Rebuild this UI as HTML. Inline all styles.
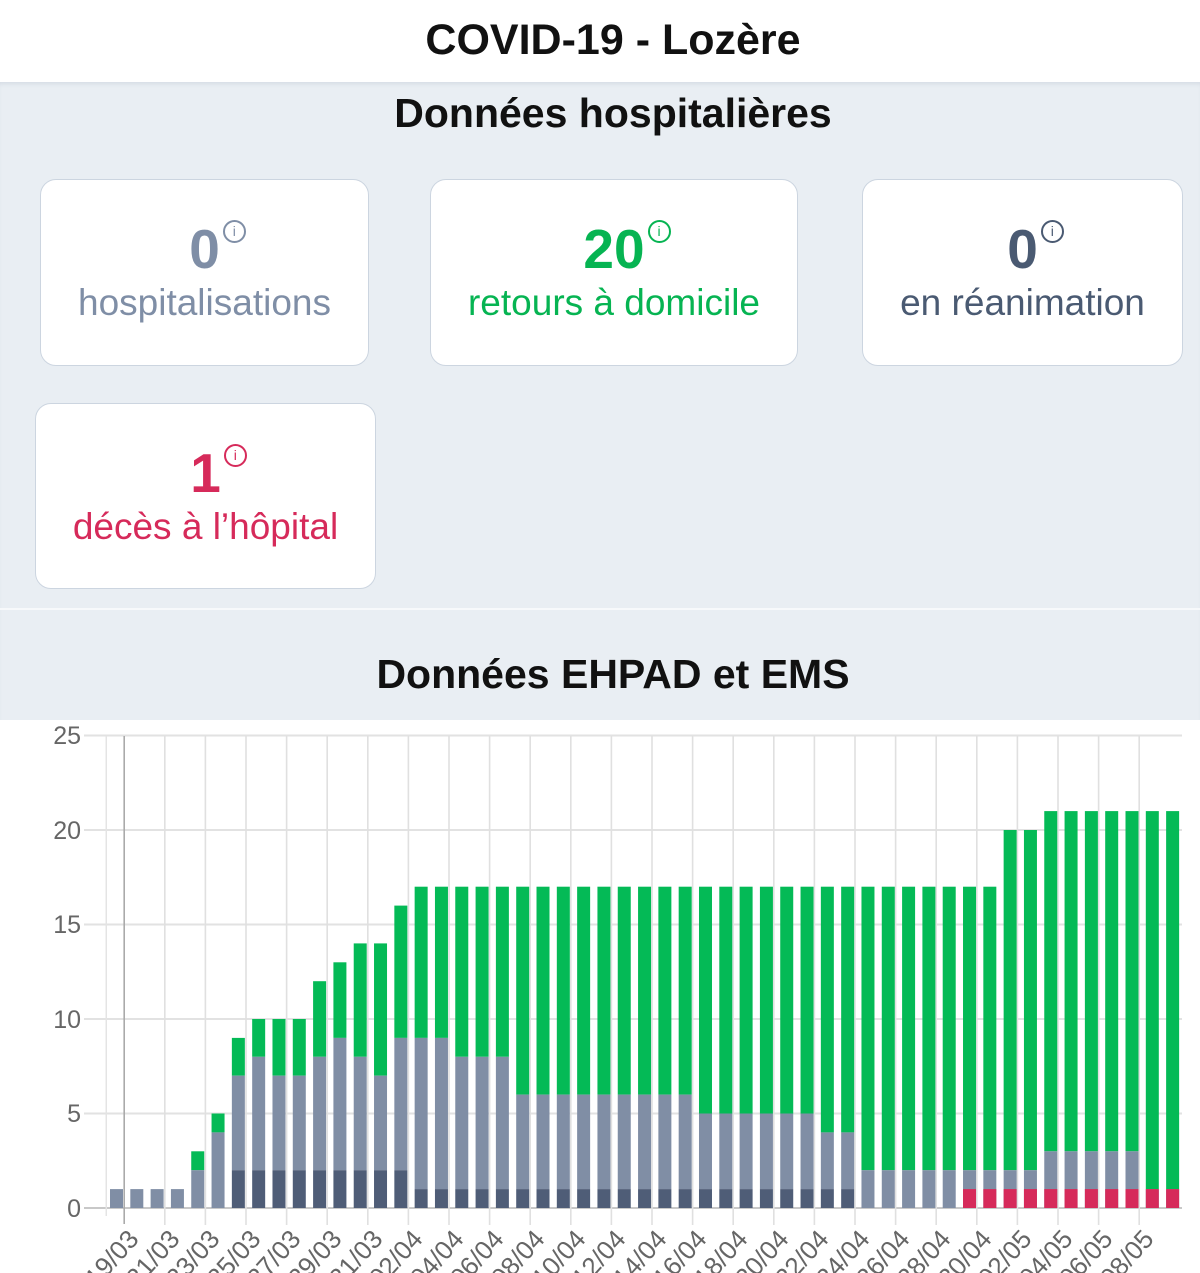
<!DOCTYPE html>
<html><head><meta charset="utf-8"><style>
*{margin:0;padding:0;box-sizing:border-box}
body{width:1200px;height:1273px;position:relative;background:#fff;font-family:"Liberation Sans",Arial,sans-serif;overflow:hidden}
.t{position:absolute;left:13px;width:1200px;text-align:center;font-weight:bold;color:#111}
.gray{position:absolute;left:0;top:82px;width:1200px;height:638px;background:#e9eef3;box-shadow:inset 0 4px 4px -2px #d5dce4}
.sep{position:absolute;left:0;top:608px;width:1200px;height:2px;background:#f7f9fb}
.card{position:absolute;background:#fff;border:1px solid #ccd5e0;border-radius:16px;text-align:center}
.num{position:absolute;left:0;width:100%;top:38px;font-size:55px;font-weight:bold;line-height:62px}
.num span{position:relative}
.num i{position:absolute;top:2px;right:-26px;width:23px;height:23px;border:2px solid currentColor;border-radius:50%;font-style:normal;font-size:14px;line-height:19px;font-weight:normal;text-align:center}
.lab{position:absolute;left:0;width:100%;top:102px;font-size:37px;line-height:42px}
</style></head><body>
<div class="t" style="top:16px;font-size:43px">COVID-19 - Lozère</div>
<div class="gray"></div>
<div class="sep"></div>
<div class="t" style="top:90px;font-size:41px">Données hospitalières</div>
<div class="card" style="left:40px;top:179px;width:329px;height:187px;color:#7f8ea6"><div class="num"><span>0<i>i</i></span></div><div class="lab">hospitalisations</div></div>
<div class="card" style="left:430px;top:179px;width:368px;height:187px;color:#06b452"><div class="num"><span>20<i>i</i></span></div><div class="lab">retours à domicile</div></div>
<div class="card" style="left:862px;top:179px;width:321px;height:187px;color:#4a5a72"><div class="num"><span>0<i>i</i></span></div><div class="lab">en réanimation</div></div>
<div class="card" style="left:35px;top:403px;width:341px;height:186px;color:#d62a5a"><div class="num"><span>1<i>i</i></span></div><div class="lab">décès à l’hôpital</div></div>
<div class="t" style="top:651px;font-size:41px">Données EHPAD et EMS</div>
<svg id="c" style="position:absolute;left:0;top:720px" width="1200" height="553" viewBox="0 0 1200 553" font-family="Liberation Sans, Arial, sans-serif">
<g id="grid"></g><g id="bars"></g>
<g fill="#666" font-size="25" text-anchor="end">
<text x="81" y="497">0</text><text x="81" y="402">5</text><text x="81" y="308">10</text><text x="81" y="213">15</text><text x="81" y="119">20</text><text x="81" y="24">25</text>
</g>
<g fill="#666" font-size="26" text-anchor="end">
<text transform="translate(140,520) rotate(-48)">19/03</text>
<text transform="translate(181,520) rotate(-48)">21/03</text>
<text transform="translate(221,520) rotate(-48)">23/03</text>
<text transform="translate(262,520) rotate(-48)">25/03</text>
<text transform="translate(302,520) rotate(-48)">27/03</text>
<text transform="translate(343,520) rotate(-48)">29/03</text>
<text transform="translate(384,520) rotate(-48)">31/03</text>
<text transform="translate(424,520) rotate(-48)">02/04</text>
<text transform="translate(465,520) rotate(-48)">04/04</text>
<text transform="translate(505,520) rotate(-48)">06/04</text>
<text transform="translate(546,520) rotate(-48)">08/04</text>
<text transform="translate(587,520) rotate(-48)">10/04</text>
<text transform="translate(627,520) rotate(-48)">12/04</text>
<text transform="translate(668,520) rotate(-48)">14/04</text>
<text transform="translate(708,520) rotate(-48)">16/04</text>
<text transform="translate(749,520) rotate(-48)">18/04</text>
<text transform="translate(790,520) rotate(-48)">20/04</text>
<text transform="translate(830,520) rotate(-48)">22/04</text>
<text transform="translate(871,520) rotate(-48)">24/04</text>
<text transform="translate(911,520) rotate(-48)">26/04</text>
<text transform="translate(952,520) rotate(-48)">28/04</text>
<text transform="translate(993,520) rotate(-48)">30/04</text>
<text transform="translate(1033,520) rotate(-48)">02/05</text>
<text transform="translate(1074,520) rotate(-48)">04/05</text>
<text transform="translate(1114,520) rotate(-48)">06/05</text>
<text transform="translate(1155,520) rotate(-48)">08/05</text>
</g>
</svg>
<script>
(function(){
var NS="http://www.w3.org/2000/svg";
function r(p,x,y,w,h,f){var e=document.createElementNS(NS,"rect");e.setAttribute("x",x);e.setAttribute("y",y);e.setAttribute("width",w);e.setAttribute("height",h);e.setAttribute("fill",f);p.appendChild(e);}
var g=document.getElementById("grid"),b=document.getElementById("bars");
function Y(v){return 488-18.9*v;}
for(var k=0;k<=5;k++){r(g,84,Y(k*5)-1,1098,2,k==0?"#c8c8c8":"#e2e2e2");}
r(g,105.5,16,1.5,480,"#e4e4e4");
for(var k=0;k<26;k++){r(g,124.4+k*40.6-1,16,1.6,k==0?488:489,k==0?"#aaa":"#e0e0e0");}
for(var i=0;i<53;i++){
 var d=0,gr,t,rd=0;
 if(i<4){gr=1;t=1;}
 else if(i==4){gr=2;t=3;}
 else if(i==5){gr=4;t=5;}
 else if(i<=14){d=2;gr=[7,8,7,7,8,9,8,7,9][i-6];t=[9,10,10,10,12,13,14,14,16][i-6];}
 else {t=17;
  if(i<=36)d=1;
  if(i<=16)gr=9;else if(i<=19)gr=8;else if(i<=28)gr=6;else if(i<=34)gr=5;else if(i<=36)gr=4;else if(i<=45)gr=2;else if(i<=50)gr=3;else gr=1;
  if(i>=42)rd=1;
  if(i==44||i==45)t=20;if(i>=46)t=21;
 }
 var x=110+i*20.31,w=13;
 r(b,x,Y(t),w,Y(gr)-Y(t),"#04ba56");
 r(b,x,Y(gr),w,Y(d)-Y(gr),"#808ea5");
 if(d)r(b,x,Y(d),w,Y(0)-Y(d),"#4f5d77");
 if(rd)r(b,x,Y(1),w,Y(0)-Y(1),"#d62a5a");
}
})();
</script>
</body></html>
